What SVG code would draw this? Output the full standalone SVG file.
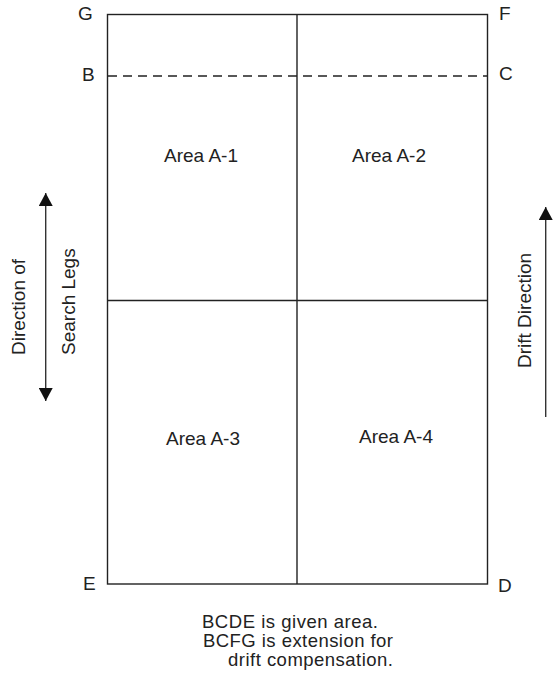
<svg xmlns="http://www.w3.org/2000/svg" width="555" height="681" viewBox="0 0 555 681">
<defs>
<marker id="ah" viewBox="0 0 13 14" refX="13" refY="7" markerWidth="13" markerHeight="14" markerUnits="userSpaceOnUse" orient="auto-start-reverse">
<path d="M0,0 L13,7 L0,14 Z" fill="#111"/>
</marker>
</defs>
<style>
.ln{stroke:#222;stroke-width:1.4;fill:none}
.dash{stroke:#222;stroke-width:1.4;fill:none;stroke-dasharray:9 6}
.ar{stroke:#333;stroke-width:1.4;fill:none}
text{font-family:"Liberation Sans",Arial,sans-serif;font-size:19px;fill:#222}
.cap{font-size:18.5px}
</style>
<rect width="555" height="681" fill="#fff"/>
<g id="frame">
<rect class="ln" x="107.5" y="14.5" width="380" height="569.5"/>
<line class="ln" x1="297" y1="14.5" x2="297" y2="584"/>
<line class="ln" x1="107.5" y1="300.5" x2="487.5" y2="300.5"/>
<line class="dash" x1="108" y1="76" x2="487" y2="76"/>
</g>
<g id="corner-labels">
<text x="78" y="19.5">G</text>
<text x="499" y="19.5">F</text>
<text x="82" y="81">B</text>
<text x="499" y="80">C</text>
<text x="83" y="590">E</text>
<text x="498" y="592">D</text>
</g>
<g id="area-A1"><text x="201" y="162" text-anchor="middle">Area A-1</text></g>
<g id="area-A2"><text x="389" y="162" text-anchor="middle">Area A-2</text></g>
<g id="area-A3"><text x="203" y="445" text-anchor="middle">Area A-3</text></g>
<g id="area-A4"><text x="396" y="443" text-anchor="middle">Area A-4</text></g>
<g id="connectors">
<line class="ar" x1="45.7" y1="193" x2="45.7" y2="401" marker-start="url(#ah)" marker-end="url(#ah)"/>
<line class="ar" x1="545.7" y1="417" x2="545.7" y2="207" marker-end="url(#ah)"/>
</g>
<g id="search-legs-label">
<text transform="translate(25,355) rotate(-90)">Direction of</text>
<text transform="translate(75,355) rotate(-90)">Search Legs</text>
</g>
<g id="drift-label">
<text transform="translate(531,368) rotate(-90)">Drift Direction</text>
</g>
<g id="caption">
<text class="cap" x="202" y="627.5" textLength="176" lengthAdjust="spacing">BCDE is given area.</text>
<text class="cap" x="203" y="646.5" textLength="190" lengthAdjust="spacing">BCFG is extension for</text>
<text class="cap" x="228" y="665.5" textLength="165" lengthAdjust="spacing">drift compensation.</text>
</g>
</svg>
